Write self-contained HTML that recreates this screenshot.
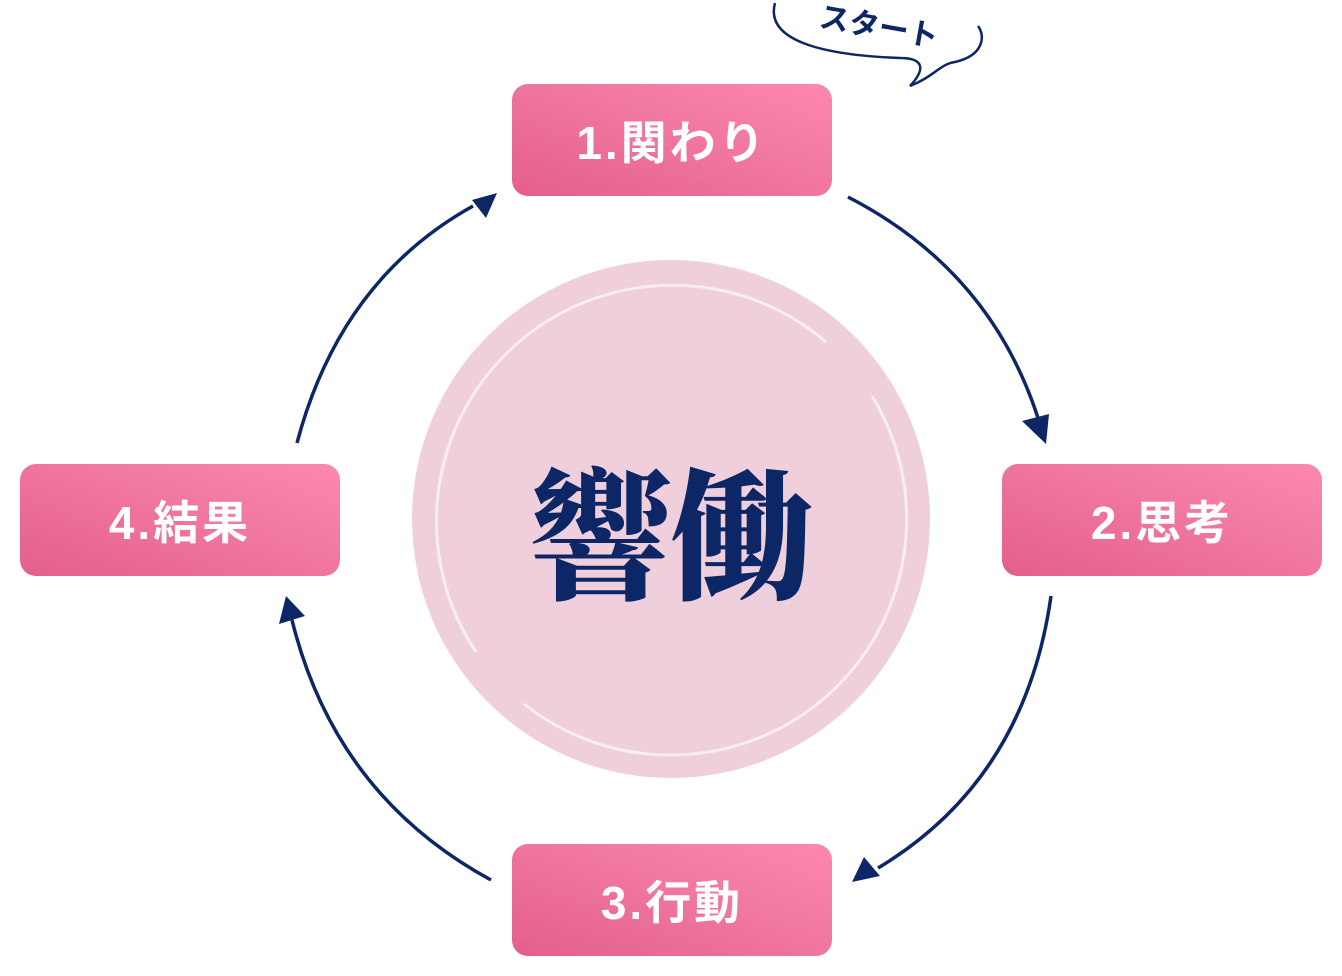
<!DOCTYPE html>
<html><head><meta charset="utf-8"><style>
html,body{margin:0;padding:0;background:#fff;width:1342px;height:976px;overflow:hidden}
.box{position:absolute;width:320px;height:112px;border-radius:16px;background:linear-gradient(20deg,#e35f8b 0%,#f077a0 55%,#fe87af 100%);color:#fff;font-family:"Liberation Sans","Noto Sans CJK JP",sans-serif;font-weight:bold;font-size:46px;display:flex;align-items:center;justify-content:center;letter-spacing:3px}
</style></head><body>
<svg width="1342" height="976" style="position:absolute;left:0;top:0">
<circle cx="671" cy="519" r="259" fill="#f0cfdd"/>
<path d="M826,342 A236,236 0 0 0 476,652" fill="none" stroke="#f6eef1" stroke-width="3"/>
<path d="M524,704 A236,236 0 0 0 872,396" fill="none" stroke="#f6eef1" stroke-width="3"/>
<g fill="none" stroke="#0d2766" stroke-width="3.5">
<path d="M848,197 Q990,270 1038,418"/>
<path d="M1051,596 Q1025,780 878,868"/>
<path d="M491,880 Q335,795 292,620"/>
<path d="M297,443 Q340,280 473,206"/>
<path d="M775,3 C765,40 820,55 900,58 C925,58 925,70 910,86 C935,76 940,64 955,62 C985,55 985,35 978,26" stroke-width="2.5"/>
</g>
<g fill="#0d2766">
<polygon points="1046,444 1022,421 1049,414"/>
<polygon points="852,882 864,857 880,876"/>
<polygon points="286,596 279,624 305,616"/>
<polygon points="497,193 472,200 486,218"/>
</g>
<text x="878" y="37" transform="rotate(10 878 32)" text-anchor="middle" font-family="Liberation Sans,Noto Sans CJK JP,sans-serif" font-weight="bold" font-size="30" fill="#0d2766">スタート</text>
<text x="671" y="588" text-anchor="middle" font-family="Liberation Serif,Noto Serif CJK SC,serif" font-weight="900" font-size="142" fill="#0d2766">響働</text>
</svg>
<div class="box" style="left:512px;top:84px">1.関わり</div>
<div class="box" style="left:1002px;top:464px">2.思考</div>
<div class="box" style="left:512px;top:844px">3.行動</div>
<div class="box" style="left:20px;top:464px">4.結果</div>
</body></html>
